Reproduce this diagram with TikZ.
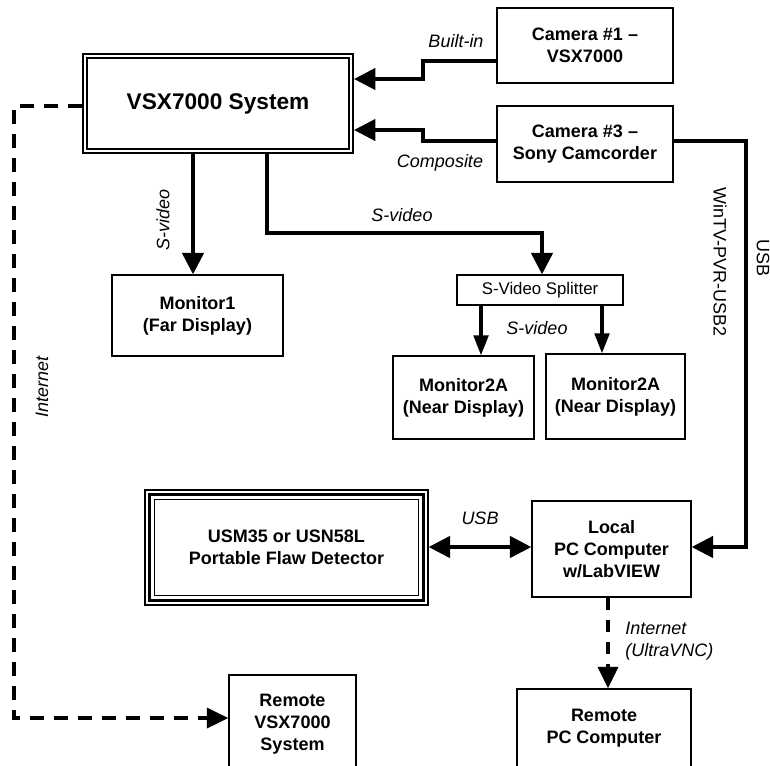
\documentclass[tikz,border=0pt]{standalone}
\usepackage{fontspec}
\setmainfont{Liberation Sans}
\usetikzlibrary{arrows.meta}
\begin{document}
\def\u{0.75pt}
\begin{tikzpicture}[x=0.75pt,y=-0.75pt,
  box/.style={draw, line width=1.1pt, align=center, inner sep=0pt,
    font=\fontsize{13.5}{16.5}\selectfont\bfseries},
  conn/.style={line width=2.5pt, -{Triangle[length=16pt,width=16pt]}},
  sconn/.style={line width=2.5pt, -{Triangle[length=15pt,width=11pt]}},
  dconn/.style={line width=2.6pt, dash pattern=on 10.5pt off 7.5pt, -{Triangle[length=16pt,width=15pt]}},
  lbl/.style={font=\fontsize{13.5}{16.5}\selectfont\itshape, inner sep=0pt, align=left},
]
\useasboundingbox (0,0) rectangle (770,765);
\clip (0,0) rectangle (770,765);

% nodes
\node[box, line width=1.6pt, minimum width=270*\u, minimum height=99*\u,
      font=\fontsize{17}{20}\selectfont\bfseries] (vsx) at (218,103.5) {VSX7000 System};
\draw[line width=0.9pt] ([shift={(5,5)}]vsx.north west) rectangle ([shift={(-5,-5)}]vsx.south east);

\node[box, minimum width=176*\u, minimum height=75*\u] (cam1) at (585,45.5) {Camera \#1 –\\VSX7000};
\node[box, minimum width=176*\u, minimum height=76*\u] (cam3) at (585,144) {Camera \#3 –\\Sony Camcorder};
\node[box, minimum width=171*\u, minimum height=81*\u] (mon1) at (197.5,315.5) {Monitor1\\(Far Display)};
\node[box, minimum width=166*\u, minimum height=30*\u,
      font=\fontsize{12.6}{15}\selectfont] (split) at (540,290) {S-Video Splitter};
\node[box, minimum width=141*\u, minimum height=83*\u] (mon2a) at (463.5,397.5) {Monitor2A\\(Near Display)};
\node[box, minimum width=139*\u, minimum height=85*\u] (mon2b) at (615.5,396.5) {Monitor2A\\(Near Display)};

\node[box, line width=1pt, minimum width=283*\u, minimum height=115*\u] (usm) at (286.5,547.5)
      {USM35 or USN58L\\Portable Flaw Detector};
\draw[line width=2.6pt] ([shift={(5,5)}]usm.north west) rectangle ([shift={(-5,-5)}]usm.south east);
\draw[line width=1pt] ([shift={(10,10)}]usm.north west) rectangle ([shift={(-10,-10)}]usm.south east);

\node[box, minimum width=159*\u, minimum height=96*\u] (local) at (611.5,549) {Local\\PC Computer\\w/LabVIEW};
\node[box, minimum width=174*\u, minimum height=78*\u] (rpc) at (604,728) {Remote\\PC Computer};
\node[box, minimum width=127*\u, minimum height=98*\u] (rvsx) at (292.5,724) {Remote\\VSX7000\\System};

% connectors
\draw[conn] (cam1.west |- 0,61) -- (423,61) -- (423,79) -- (vsx.east |- 0,79);
\draw[conn] (cam3.west |- 0,141) -- (423,141) -- (423,130) -- (vsx.east |- 0,130);
\draw[conn] (vsx.south -| 193,0) -- (mon1.north -| 193,0);
\draw[conn] (vsx.south -| 267,0) -- (267,233) -- (542,233) -- (split.north -| 542,0);
\draw[sconn] (split.south -| 481,0) -- (mon2a.north -| 481,0);
\draw[sconn] (split.south -| 602,0) -- (mon2b.north -| 602,0);
\draw[conn] (cam3.east |- 0,141) -- (746,141) -- (746,547) -- (local.east |- 0,547);
\draw[line width=2.5pt, {Triangle[length=16pt,width=16pt]}-{Triangle[length=16pt,width=16pt]}]
  (usm.east |- 0,547) -- (local.west |- 0,547);
\draw[dconn, dash pattern=on 9pt off 7.5pt] (local.south -| 608,0) -- (rpc.north -| 608,0);
\draw[dconn] (vsx.west |- 0,106) -- (14,106) -- (14,718) -- (rvsx.west |- 0,718);

% labels
\node[lbl] (lbuilt) at (456,41) {Built-in};
\node[lbl] (lcomp) at (440,163) {Composite};
\node[lbl, rotate=90] (lsv1) at (163,220) {S-video};
\node[lbl] (lsv2) at (402,215) {S-video};
\node[lbl] (lsv3) at (537,328) {S-video};
\node[lbl, font=\fontsize{13.5}{16.5}\selectfont, rotate=-90] (lwin) at (720,262) {WinTV-PVR-USB2};
\node[lbl, font=\fontsize{13.5}{16.5}\selectfont, rotate=-90] (lusb1) at (763,258) {USB};
\node[lbl, rotate=90] (linet) at (42,387) {Internet};
\node[lbl] (lusb2) at (480,518) {USB};
\node[lbl, anchor=west] (lvnc) at (625,641) {Internet\\(UltraVNC)};
\end{tikzpicture}
\end{document}
